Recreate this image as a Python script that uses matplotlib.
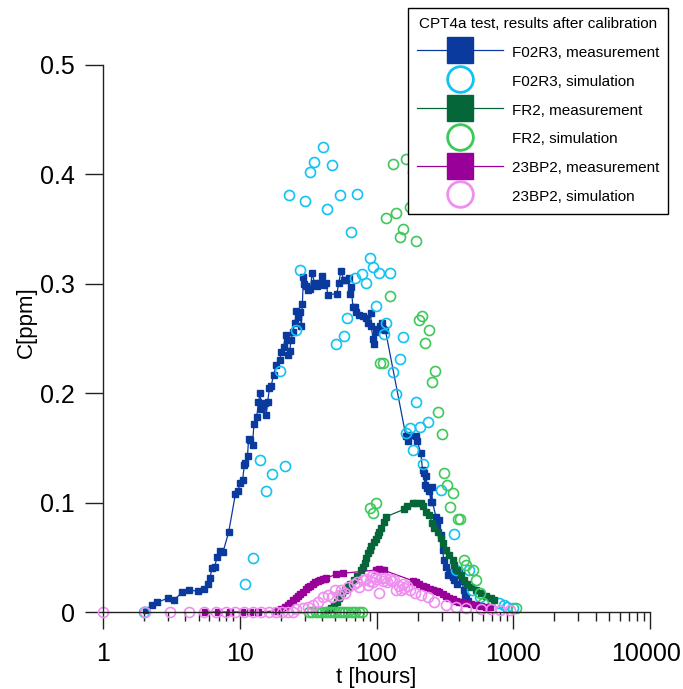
import matplotlib
matplotlib.use("Agg")
import matplotlib.pyplot as plt
import matplotlib.transforms as mtransforms
from matplotlib.lines import Line2D

plt.rcParams['font.family'] = ['Liberation Sans', 'DejaVu Sans']

# F02R3 - measurement
t_f02r3_med = [2.08, 2.3, 2.5, 2.97, 3.3, 3.8, 4.27, 4.97, 5.45, 5.87, 6.04, 6.28, 6.56, 6.8,
               7.2, 7.55, 8.3, 9.3, 9.7, 10.1, 10.5, 10.8, 11.0, 11.4, 11.6, 11.9, 12.4, 12.7,
               13.3, 13.7, 14.1, 14.4, 14.9, 15.4, 15.6, 16.0, 16.5, 17.0, 17.7, 18.5, 19.6,
               20.1, 20.9, 21.7, 22.1, 22.6, 23.2, 23.8, 24.4, 25.3, 26.0, 26.8, 27.6, 28.2,
               28.7, 29.2, 29.7, 30.3, 31.3, 32.9, 33.8, 35.2, 36.5, 38.2, 40.0, 41.0, 42.9,
               44.0, 51.3, 53.0, 55.0, 57.6, 59.9, 62.6, 63.5, 65.3, 67.2, 69.5, 71.0, 75.0,
               79.3, 84.0, 86.8, 90.9, 91.5, 94.3, 95.3, 98.4, 102, 106, 110, 112, 116,
               164, 169, 176, 194, 199, 211, 217, 222, 225, 230, 236, 243, 250, 254, 256,
               272, 279, 288, 296, 304, 311, 322, 331, 345, 360, 370, 385, 403, 420, 437,
               445, 455, 470]
c_f02r3_med = [0.002, 0.006, 0.009, 0.0125, 0.011, 0.018, 0.020, 0.019, 0.021, 0.026, 0.031,
               0.040, 0.041, 0.050, 0.056, 0.055, 0.073, 0.108, 0.111, 0.118, 0.121, 0.134,
               0.136, 0.143, 0.158, 0.157, 0.153, 0.172, 0.178, 0.192, 0.200, 0.186, 0.188,
               0.191, 0.180, 0.192, 0.205, 0.207, 0.217, 0.226, 0.230, 0.238, 0.2425, 0.253,
               0.249, 0.235, 0.239, 0.249, 0.256, 0.264, 0.275, 0.270, 0.274, 0.261, 0.2815,
               0.3065, 0.300, 0.298, 0.294, 0.295, 0.310, 0.301, 0.298, 0.301, 0.307, 0.299,
               0.301, 0.290, 0.291, 0.301, 0.312, 0.3035, 0.3035, 0.305, 0.291, 0.2975, 0.279,
               0.279, 0.2745, 0.2715, 0.2706, 0.269, 0.264, 0.273, 0.261, 0.250, 0.245, 0.256,
               0.259, 0.261, 0.264, 0.259, 0.258,
               0.161, 0.156, 0.162, 0.161, 0.156, 0.145, 0.130, 0.127, 0.116, 0.124, 0.113,
               0.111, 0.101, 0.1145, 0.101, 0.087, 0.078, 0.084, 0.070, 0.0567, 0.0475,
               0.041, 0.034, 0.037, 0.032, 0.029, 0.026, 0.0354, 0.028, 0.020, 0.0146,
               0.014, 0.010]

# F02R3 - simulation
t_f02r3_sim = [2.0, 10.9, 12.4, 14.0, 15.6, 17.3, 19.6, 21.3, 23.1, 25.6, 27.5, 30.1, 32.5,
               35.2, 40.9, 43.5, 47.0, 50.5, 53.8, 57.4, 61.0, 65.3, 69.5, 72.5, 78.6, 83.9,
               88.9, 94.2, 99.5, 105, 113, 118, 126, 133, 140, 148, 157, 164, 177, 186, 195,
               207, 217, 240, 296, 370, 380, 475, 500, 568, 790, 850, 900, 1000]
c_f02r3_sim = [0.0, 0.026, 0.049, 0.139, 0.111, 0.126, 0.220, 0.1335, 0.381, 0.258, 0.3126,
               0.376, 0.4025, 0.4117, 0.4248, 0.368, 0.409, 0.2447, 0.381, 0.2526, 0.269,
               0.3477, 0.305, 0.382, 0.309, 0.301, 0.3233, 0.315, 0.2797, 0.310, 0.254,
               0.2645, 0.310, 0.2197, 0.1993, 0.2313, 0.251, 0.164, 0.1685, 0.148, 0.1923,
               0.1694, 0.135, 0.1734, 0.1115, 0.0713, 0.0384, 0.0384, 0.020, 0.014, 0.008,
               0.006, 0.005, 0.004]

# FR2 - measurement
t_fr2_med = [44, 46.5, 49, 51, 52.8, 54.5, 56, 58.5, 61.6, 64.5, 69, 72.5, 77, 79.5, 81.8,
             84, 86.5, 89, 91, 96.5, 99, 102, 105, 108, 114, 117, 160, 168, 184, 195, 210,
             218, 230, 243, 256, 265, 281, 296, 305, 323, 340, 360, 370, 391, 412, 437, 460,
             490, 538, 578, 630, 686, 724]
c_fr2_med = [0.002, 0.004, 0.0064, 0.009, 0.0125, 0.015, 0.017, 0.020, 0.023, 0.026, 0.029,
             0.033, 0.038, 0.041, 0.045, 0.049, 0.0536, 0.057, 0.060, 0.064, 0.067, 0.070,
             0.073, 0.0765, 0.0826, 0.087, 0.094, 0.097, 0.0995, 0.0995, 0.0995, 0.097,
             0.0917, 0.0887, 0.081, 0.077, 0.0735, 0.0674, 0.063, 0.0567, 0.052, 0.0475,
             0.043, 0.0384, 0.0338, 0.029, 0.026, 0.023, 0.020, 0.017, 0.0146, 0.0125, 0.011]

# FR2 - simulation
t_fr2_sim = [32, 34, 36, 38, 40, 42.5, 45, 47.5, 50, 53, 56, 59, 62, 66, 70, 74, 78,
             89, 95, 99.3, 106, 112, 118, 126, 133, 140, 148, 157, 164, 177, 186, 195, 206,
             214, 227, 241, 254, 269, 282, 299, 311, 327, 346, 361, 392, 405, 437, 450, 510,
             538, 568, 600, 1040]
c_fr2_sim = [0.0, 0.0, 0.0, 0.0, 0.0, 0.0, 0.0, 0.0, 0.0, 0.0, 0.0, 0.0, 0.0, 0.0, 0.0, 0.0,
             0.0, 0.0948, 0.0908, 0.0999, 0.2273, 0.228, 0.36, 0.289, 0.4095, 0.365, 0.3426,
             0.35, 0.414, 0.37, 0.402, 0.339, 0.267, 0.2706, 0.2456, 0.258, 0.2105, 0.2206,
             0.183, 0.163, 0.1268, 0.116, 0.0957, 0.109, 0.0847, 0.0847, 0.0475, 0.043,
             0.038, 0.029, 0.017, 0.008, 0.0034]

# 23BP2 - measurement
t_23bp2_med = [5.55, 6.93, 8.55, 10.3, 11.9, 13.7, 18.5, 20, 21.3, 22.5, 23.5, 24.5, 25.6,
               26.7, 27.8, 29, 30.3, 31.6, 32.9, 34.2, 35.7, 37.3, 38.8, 40.4, 41.7, 43,
               50.6, 56.9, 99.3, 102, 105, 110, 114, 184, 195, 206, 218, 230, 245, 260, 275,
               288, 305, 322, 340, 360, 380, 403, 425, 450, 490, 538, 580, 630, 680]
c_23bp2_med = [0.0, 0.0, 0.0, 0.0, 0.0, 0.0, 0.001, 0.003, 0.0045, 0.0064, 0.0085, 0.011,
               0.013, 0.0146, 0.0166, 0.0186, 0.0206, 0.0226, 0.0241, 0.0256, 0.0271, 0.0286,
               0.0293, 0.030, 0.0305, 0.031, 0.0345, 0.0354, 0.0384, 0.0386, 0.039, 0.0385,
               0.038, 0.0286, 0.027, 0.0256, 0.024, 0.0226, 0.021, 0.0205, 0.0195, 0.0186,
               0.0166, 0.0146, 0.013, 0.0116, 0.0105, 0.0094, 0.0087, 0.008, 0.007, 0.0064,
               0.0056, 0.0049, 0.0045]

# 23BP2 - simulation
t_23bp2_sim = [1, 2.02, 3.1, 4.27, 5.45, 6.7, 8.0, 9.3, 10.8, 12.5, 14.4, 16.5, 18.5, 20.5,
               22.5, 24.5, 25.8, 28.9, 31.6, 34.2, 37.3, 40.4, 44, 47.4, 49.5, 53.6, 55, 58.8,
               61.6, 68, 72.5, 74, 79, 83.9, 86, 89, 92, 94, 97, 99.3, 105, 108, 112, 116,
               120, 125, 129, 134, 139, 145, 150, 155, 160, 168, 175, 190, 213, 238, 265,
               320, 380, 450, 580, 690, 800, 950]
c_23bp2_sim = [0.0, 0.0, 0.0, 0.0, 0.0, 0.0, 0.0, 0.0, 0.0, 0.0, 0.0, 0.0, 0.0, 0.0, 0.0,
               0.0, 0.003, 0.004, 0.005, 0.0064, 0.0094, 0.0134, 0.0155, 0.0134, 0.020,
               0.0155, 0.020, 0.0171, 0.023, 0.0256, 0.0277, 0.023, 0.029, 0.0306, 0.025,
               0.0285, 0.033, 0.0277, 0.032, 0.0306, 0.0176, 0.031, 0.0285, 0.031, 0.0277,
               0.030, 0.0285, 0.029, 0.020, 0.024, 0.020, 0.026, 0.0217, 0.024, 0.020,
               0.0171, 0.0155, 0.0134, 0.0094, 0.0064, 0.0049, 0.0034, 0.003, 0.0025,
               0.002, 0.002]

x_ticks = [1, 10, 100, 1000, 10000]
y_ticks = [0, 0.1, 0.2, 0.3, 0.4, 0.5]

# colores de las series
azul, cian = '#0a3a9e', '#12c3f2'
verde, verde_claro = '#05663a', '#3ec85a'
morado, rosa = '#990099', '#f08ef0'

fig = plt.figure(figsize=(6.83, 6.89), dpi=100)
fig.set_facecolor('white')
ax = fig.add_axes([103 / 683, 77 / 689, 547 / 683, 547 / 689])

med = dict(marker='s', markersize=4.6, linewidth=0.9, clip_on=False)
sim = dict(marker='o', markersize=7.2, linestyle='none', markerfacecolor='none',
           markeredgewidth=1.2, clip_on=False)

ax.plot(t_f02r3_med, c_f02r3_med, color=azul, **med)
ax.plot(t_f02r3_sim, c_f02r3_sim, color=cian, **sim)
ax.plot(t_fr2_med, c_fr2_med, color=verde, **med)
ax.plot(t_fr2_sim, c_fr2_sim, color=verde_claro, **sim)
ax.plot(t_23bp2_med, c_23bp2_med, color=morado, **med)
ax.plot(t_23bp2_sim, c_23bp2_sim, color=rosa, **sim)

ax.set_xscale('log')
ax.set_xlim(1, 10000)
ax.set_ylim(0, 0.5)
ax.set_xticks(x_ticks)
ax.set_xticklabels([str(v) for v in x_ticks])
ax.set_yticks(y_ticks)
ax.set_yticklabels(['0' if v == 0 else f'{v:.1f}' for v in y_ticks])

for lado in ['top', 'right']:
    ax.spines[lado].set_visible(False)
for lado in ['left', 'bottom']:
    ax.spines[lado].set_color('#222222')
    ax.spines[lado].set_linewidth(1.0)

ax.tick_params(axis='x', which='major', direction='out', length=12.5, width=1.0,
               labelsize=18, pad=9, colors='#222222', labelcolor='black')
ax.tick_params(axis='x', which='minor', direction='out', length=6.5, width=1.0,
               colors='#222222')
ax.tick_params(axis='y', which='major', direction='out', length=13, width=1.0,
               labelsize=18, pad=7, colors='#222222', labelcolor='black')
ax.tick_params(axis='y', which='minor', length=0)

# el ultimo rotulo (10000) toca el borde: se corre unos pixeles a la izquierda
ultimo = ax.get_xticklabels()[-1]
ultimo.set_transform(ultimo.get_transform() +
                     mtransforms.ScaledTranslation(-4 / 100, 0, fig.dpi_scale_trans))

ax.set_xlabel('t [hours]', fontsize=16, labelpad=1)
ax.set_ylabel('C[ppm]', fontsize=16)
ax.yaxis.set_label_coords(-0.12, 0.53)

# leyenda con marcadores grandes
handles = [
    Line2D([], [], color=azul, marker='s', markersize=18.5, linewidth=0.9),
    Line2D([], [], color=cian, marker='o', markersize=18.5, linestyle='none',
           markerfacecolor='none', markeredgewidth=2),
    Line2D([], [], color=verde, marker='s', markersize=18.5, linewidth=0.9),
    Line2D([], [], color=verde_claro, marker='o', markersize=18.5, linestyle='none',
           markerfacecolor='none', markeredgewidth=2),
    Line2D([], [], color=morado, marker='s', markersize=18.5, linewidth=0.9),
    Line2D([], [], color=rosa, marker='o', markersize=18.5, linestyle='none',
           markerfacecolor='none', markeredgewidth=2),
]
etiquetas = ['F02R3, measurement', 'F02R3, simulation', 'FR2, measurement',
             'FR2, simulation', '23BP2, measurement', '23BP2, simulation']
leg = fig.legend(handles, etiquetas, title='CPT4a test, results after calibration',
                 loc='upper left', bbox_to_anchor=(408 / 683, 1 - 8 / 689),
                 borderaxespad=0, fontsize=11, title_fontsize=11, frameon=True,
                 fancybox=False, edgecolor='black', framealpha=1, borderpad=0.6,
                 handlelength=5.6, handletextpad=0.6, handleheight=1.3,
                 labelspacing=0.8)
leg.get_frame().set_linewidth(1.0)

fig.savefig('out.png', dpi=100, facecolor='white')
